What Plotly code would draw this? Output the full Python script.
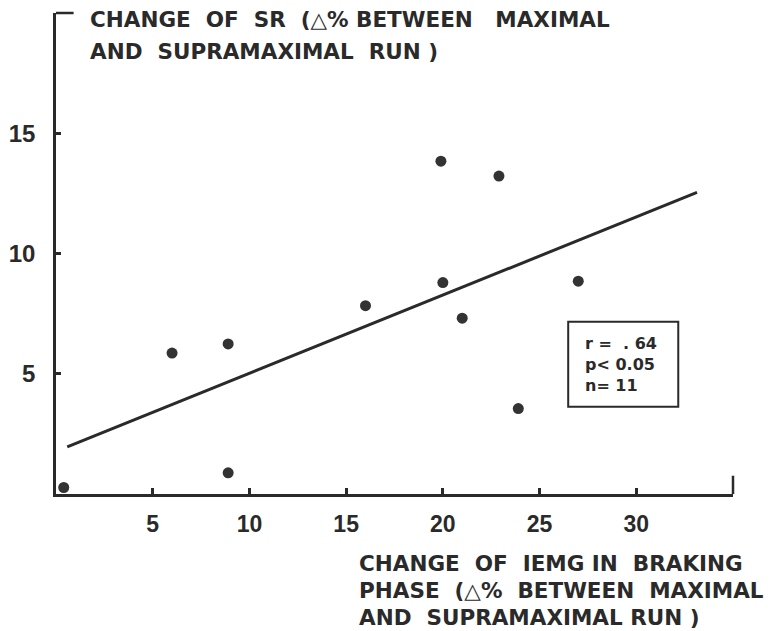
import plotly.graph_objects as go

# Data
iemg_change = [0.4, 6.0, 8.9, 8.9, 16.0, 19.9, 22.9, 20.0, 21.0, 23.9, 27.0]
sr_change = [0.27, 5.86, 6.24, 0.88, 7.83, 13.84, 13.22, 8.79, 7.31, 3.55, 8.85]

fit_x = [0.58, 33.14]
fit_y = [1.96, 12.54]

x_ticks = [5, 10, 15, 20, 25, 30]
y_ticks = [5, 10, 15]

stats_lines = ["r =  . 64", "p< 0.05", "n= 11"]
y_title_lines = ["CHANGE  OF  SR  (\u25b3% BETWEEN   MAXIMAL", "AND  SUPRAMAXIMAL  RUN )"]
x_title_lines = ["CHANGE  OF  IEMG IN  BRAKING", "PHASE  (\u25b3%  BETWEEN  MAXIMAL", "AND  SUPRAMAXIMAL RUN )"]

INK = "#2a2a2a"
FONT = "DejaVu Sans"
TICKFONT = "Liberation Sans"
W, H = 769, 631
ML, MR, MT, MB = 56, 36, 13, 137
PW, PH = W - ML - MR, H - MT - MB


def px_to_paper(px, py):
    return (px - ML) / PW, (H - MB - py) / PH


fig = go.Figure()
fig.add_trace(go.Scatter(x=fit_x, y=fit_y, mode="lines",
                         line=dict(color=INK, width=3), hoverinfo="skip",
                         showlegend=False))
fig.add_trace(go.Scatter(x=iemg_change, y=sr_change, mode="markers",
                         marker=dict(color="#333333", size=11),
                         cliponaxis=False, showlegend=False))

fig.update_layout(
    width=W, height=H,
    margin=dict(l=ML, r=MR, t=MT, b=MB, autoexpand=False),
    paper_bgcolor="white", plot_bgcolor="white",
    font=dict(family=FONT, color=INK),
    xaxis=dict(range=[0, 35], tickvals=x_ticks, ticktext=[str(v) for v in x_ticks],
               automargin=False,
               showline=True, linecolor=INK, linewidth=2.5, showgrid=False,
               zeroline=False, ticks="inside", ticklen=6, tickwidth=2.5,
               tickcolor=INK, ticklabelstandoff=8,
               tickfont=dict(size=23, family=TICKFONT, color=INK, weight="bold")),
    yaxis=dict(range=[0, 20], tickvals=y_ticks, ticktext=[str(v) for v in y_ticks],
               automargin=False,
               showline=True, linecolor=INK, linewidth=2.5, showgrid=False,
               zeroline=False, ticks="inside", ticklen=5, tickwidth=2.5,
               tickcolor=INK, ticklabelstandoff=13,
               tickfont=dict(size=24, family=TICKFONT, color=INK, weight="bold")),
)

# axis end stubs
fig.add_shape(type="line", xref="paper", yref="paper", x0=0, x1=0.026, y0=1, y1=1,
              line=dict(color=INK, width=2.5))
fig.add_shape(type="line", xref="paper", yref="paper", x0=1, x1=1, y0=0, y1=0.038,
              line=dict(color=INK, width=2.5))

# stats box
fig.add_shape(type="rect", xref="x", yref="y", x0=26.48, x1=32.17, y0=3.63, y1=7.16,
              line=dict(color=INK, width=2), fillcolor="white")
fig.add_annotation(x=27.25, y=5.4, xref="x", yref="y", text="<br>".join(stats_lines),
                   showarrow=False, xanchor="left", yanchor="middle", align="left",
                   font=dict(size=16, family=FONT, color=INK, weight="bold"))

# y-axis title (top)
for i, t in enumerate(y_title_lines):
    ax, ay = px_to_paper(88, 20 + i * 31)
    fig.add_annotation(x=ax, y=ay, xref="paper", yref="paper",
                       text=t, showarrow=False, xanchor="left", yanchor="middle",
                       font=dict(size=21.5, family=FONT, color=INK, weight="bold"))
# x-axis title (bottom right)
for i, t in enumerate(x_title_lines):
    ax, ay = px_to_paper(357, 563 + i * 27.3)
    fig.add_annotation(x=ax, y=ay, xref="paper", yref="paper", text=t,
                       showarrow=False, xanchor="left", yanchor="middle",
                       font=dict(size=21.5, family=FONT, color=INK, weight="bold"))

fig.write_html("out.html")
